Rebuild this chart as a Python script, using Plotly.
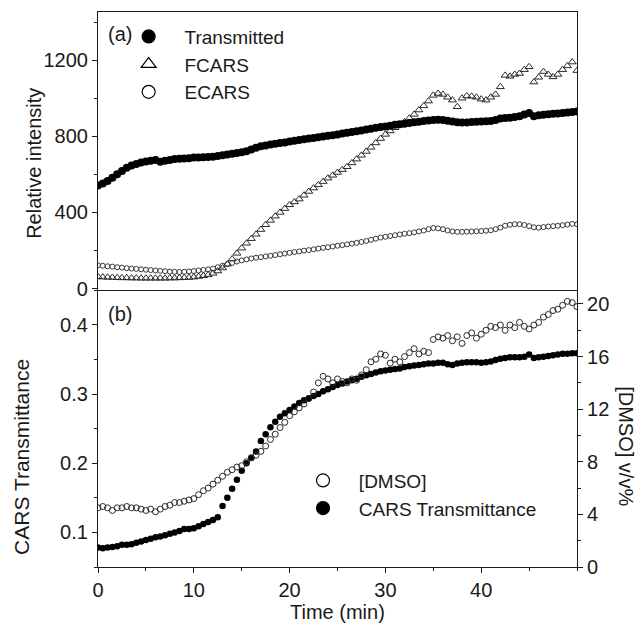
import plotly.graph_objects as go

time_min = [0.0, 0.5, 1.0, 1.5, 2.0, 2.5, 3.0, 3.5, 4.0, 4.5, 5.0, 5.5, 6.0, 6.5, 7.0, 7.5, 8.0, 8.5, 9.0, 9.5,
            10.0, 10.5, 11.0, 11.5, 12.0, 12.5, 13.0, 13.5, 14.0, 14.5, 15.0, 15.5, 16.0, 16.5, 17.0, 17.5, 18.0, 18.5, 19.0, 19.5,
            20.0, 20.5, 21.0, 21.5, 22.0, 22.5, 23.0, 23.5, 24.0, 24.5, 25.0, 25.5, 26.0, 26.5, 27.0, 27.5, 28.0, 28.5, 29.0, 29.5,
            30.0, 30.5, 31.0, 31.5, 32.0, 32.5, 33.0, 33.5, 34.0, 34.5, 35.0, 35.5, 36.0, 36.5, 37.0, 37.5, 38.0, 38.5, 39.0, 39.5,
            40.0, 40.5, 41.0, 41.5, 42.0, 42.5, 43.0, 43.5, 44.0, 44.5, 45.0, 45.5, 46.0, 46.5, 47.0, 47.5, 48.0, 48.5, 49.0, 49.5,
            50.0]

transmitted = [542, 552, 565, 582, 600, 618, 635, 646, 655, 662, 668, 672, 676, 666, 672, 676, 680, 682, 683, 685,
               688, 689, 690, 691, 693, 696, 700, 704, 708, 712, 716, 722, 730, 740, 748, 752, 757, 761, 765, 768,
               772, 776, 780, 784, 788, 791, 795, 799, 803, 806, 810, 814, 818, 822, 826, 830, 835, 840, 845, 849,
               852, 856, 860, 863, 866, 870, 874, 877, 880, 883, 885, 887, 885, 881, 878, 874, 872, 873, 875, 876,
               878, 879, 880, 886, 893, 896, 898, 901, 905, 915, 922, 905, 910, 913, 916, 918, 920, 922, 925, 928,
               930]

fcars = [62, 60, 59, 58, 57, 56, 56, 55, 55, 54, 54, 54, 54, 54, 54, 55, 55, 56, 57, 58,
         60, 63, 67, 72, 80, 92, 108, 128, 155, 185, 212, 238, 262, 285, 310, 335, 358, 380, 400, 420,
         440, 455, 470, 490, 510, 528, 545, 562, 580, 595, 610, 625, 640, 660, 680, 700, 720, 742, 765, 788,
         810, 828, 845, 860, 875, 895, 915, 938, 960, 985, 1015, 1025, 1020, 1005, 990, 955, 1000, 1012, 1010, 1005,
         995, 990, 1005, 1020, 1060, 1120, 1115, 1125, 1130, 1150, 1165, 1085, 1110, 1140, 1125, 1112, 1125, 1150, 1170, 1190,
         1145]

ecars = [122, 120, 117, 115, 112, 110, 107, 105, 103, 101, 99, 97, 95, 93, 91, 89, 88, 87, 88, 90,
         92, 95, 98, 101, 105, 112, 120, 128, 135, 142, 148, 153, 158, 162, 165, 169, 172, 176, 180, 184,
         188, 192, 195, 199, 202, 206, 210, 214, 217, 221, 225, 228, 232, 236, 240, 245, 250, 256, 262, 268,
         272, 276, 280, 284, 288, 291, 295, 300, 305, 312, 318, 316, 312, 305, 300, 298, 298, 299, 300, 301,
         302, 304, 306, 312, 320, 330, 335, 338, 338, 334, 328, 322, 320, 323, 326, 328, 330, 333, 336, 340,
         338]

cars_trans = [0.078, 0.077, 0.078, 0.079, 0.080, 0.082, 0.082, 0.083, 0.085, 0.087, 0.089, 0.091, 0.093, 0.094, 0.096, 0.098, 0.100, 0.102, 0.105, 0.105,
              0.106, 0.109, 0.112, 0.115, 0.118, 0.122, 0.138, 0.150, 0.163, 0.176, 0.189, 0.200, 0.208, 0.217, 0.232, 0.242, 0.252, 0.260, 0.267, 0.272,
              0.277, 0.282, 0.287, 0.291, 0.294, 0.297, 0.300, 0.304, 0.307, 0.310, 0.313, 0.315, 0.318, 0.320, 0.322, 0.325, 0.327, 0.329, 0.331, 0.333,
              0.334, 0.335, 0.336, 0.337, 0.339, 0.340, 0.341, 0.342, 0.343, 0.344, 0.344, 0.345, 0.345, 0.343, 0.342, 0.344, 0.345, 0.346, 0.346, 0.346,
              0.345, 0.346, 0.347, 0.349, 0.351, 0.352, 0.353, 0.353, 0.353, 0.354, 0.357, 0.352, 0.353, 0.354, 0.355, 0.356, 0.357, 0.358, 0.358, 0.359,
              0.359]

dmso = [4.5, 4.6, 4.5, 4.3, 4.5, 4.5, 4.6, 4.5, 4.5, 4.4, 4.3, 4.4, 4.2, 4.4, 4.6, 4.7, 4.9, 4.9, 5.0, 5.1,
        5.2, 5.5, 5.8, 6.0, 6.3, 6.6, 6.9, 7.2, 7.4, 7.6, 7.7, 8.0, 8.3, 8.5, 8.8, 9.2, 9.7, 10.1, 10.6, 11.0,
        11.5, 11.8, 12.1, 12.4, 12.8, 13.3, 14.0, 14.5, 14.3, 14.0, 14.3, 14.1, 14.0, 14.3, 14.2, 14.6, 15.0, 15.6, 15.8, 16.2,
        16.1, 15.5, 15.8, 15.6, 16.0, 16.3, 16.6, 16.2, 16.4, 16.3, 17.3, 17.5, 17.4, 17.6, 17.2, 17.5, 17.0, 17.6, 17.8, 17.4,
        17.7, 18.0, 18.3, 18.2, 18.4, 18.0, 18.4, 18.2, 18.6, 18.3, 18.1, 18.4, 18.6, 19.0, 19.2, 19.5, 19.6, 19.9, 20.2, 20.1,
        19.8]

x_ticks = [0, 10, 20, 30, 40]
top_ticks = [0, 400, 800, 1200]
left_ticks = [0.1, 0.2, 0.3, 0.4]
right_ticks = [0, 4, 8, 12, 16, 20]

FONT = "Liberation Sans, Arial, sans-serif"
INK = "#1a1a1a"
NB = "\u00a0"

fig = go.Figure()

# top panel data
fig.add_trace(go.Scatter(x=time_min, y=ecars, mode="markers", xaxis="x", yaxis="y", showlegend=False,
                         marker=dict(symbol="circle-open", size=5, color="#3a3a3a", line=dict(width=1))))
fig.add_trace(go.Scatter(x=time_min, y=fcars, mode="markers", xaxis="x", yaxis="y", showlegend=False,
                         marker=dict(symbol="triangle-up-open", size=7, color="#2a2a2a", line=dict(width=1))))
fig.add_trace(go.Scatter(x=time_min, y=transmitted, mode="markers", xaxis="x", yaxis="y", showlegend=False,
                         marker=dict(symbol="circle", size=8, color="black")))

# bottom panel data
fig.add_trace(go.Scatter(x=time_min, y=dmso, mode="markers", xaxis="x2", yaxis="y3", showlegend=False,
                         marker=dict(symbol="circle-open", size=6, color="#2a2a2a", line=dict(width=1))))
fig.add_trace(go.Scatter(x=time_min, y=cars_trans, mode="markers", xaxis="x2", yaxis="y2", showlegend=False,
                         marker=dict(symbol="circle", size=6.5, color="black")))

# legend entries
def leg(name, symbol, legend, xa, ya):
    fig.add_trace(go.Scatter(x=[None], y=[None], mode="markers", name=NB * 3 + name, legend=legend,
                             xaxis=xa, yaxis=ya,
                             marker=dict(symbol=symbol, size=13, color="black", line=dict(width=1.2, color="black"))))

leg("Transmitted", "circle", "legend", "x", "y")
leg("FCARS", "triangle-up-open", "legend", "x", "y")
leg("ECARS", "circle-open", "legend", "x", "y")
leg("[DMSO]", "circle-open", "legend2", "x2", "y3")
leg("CARS Transmittance", "circle", "legend2", "x2", "y2")

axis_common = dict(showline=True, linecolor=INK, linewidth=1.2, showgrid=False, zeroline=False,
                   ticks="outside", ticklen=5, tickwidth=1.2, tickcolor=INK,
                   tickfont=dict(family=FONT, size=20, color=INK))

fig.update_layout(
    width=637, height=632,
    margin=dict(l=98, r=60, t=12, b=65),
    paper_bgcolor="white", plot_bgcolor="white",
    font=dict(family=FONT, size=20, color=INK),
    xaxis=dict(domain=[0, 1], anchor="y", range=[0, 50], showline=True, linecolor=INK, linewidth=1.2,
               mirror=True, showticklabels=False, ticks="", showgrid=False, zeroline=False),
    yaxis=dict(domain=[0.5, 1], anchor="x", range=[-5, 1453], tickvals=top_ticks, mirror=True,
               minor=dict(dtick=200, tick0=0, ticks="outside", ticklen=3, tickwidth=1, tickcolor=INK),
               **axis_common),
    xaxis2=dict(domain=[0, 1], anchor="y2", range=[0, 50], tickvals=x_ticks,
                minor=dict(dtick=5, tick0=0, ticks="outside", ticklen=3, tickwidth=1, tickcolor=INK),
                **axis_common),
    yaxis2=dict(domain=[0, 0.5], anchor="x2", range=[0.05, 0.451], tickvals=left_ticks,
                ticktext=[str(v) for v in left_ticks],
                minor=dict(dtick=0.05, tick0=0.05, ticks="outside", ticklen=3, tickwidth=1, tickcolor=INK),
                **axis_common),
    yaxis3=dict(overlaying="y2", anchor="x2", side="right", range=[0, 21.1], tickvals=right_ticks,
                minor=dict(dtick=2, tick0=0, ticks="outside", ticklen=3, tickwidth=1, tickcolor=INK),
                **axis_common),
    legend=dict(x=0.064, y=0.99, xanchor="left", yanchor="top", bgcolor="rgba(0,0,0,0)",
                font=dict(family=FONT, size=19, color=INK), tracegroupgap=0, itemclick=False),
    legend2=dict(x=0.428, y=0.19, xanchor="left", yanchor="top", bgcolor="rgba(0,0,0,0)",
                 font=dict(family=FONT, size=19, color=INK), tracegroupgap=0, itemclick=False),
)

fig.add_annotation(text="(a)", xref="paper", yref="paper", x=0.016, y=0.96, xanchor="left", yanchor="middle",
                   showarrow=False, font=dict(family=FONT, size=20, color=INK))
fig.add_annotation(text="(b)", xref="paper", yref="paper", x=0.016, y=0.455, xanchor="left", yanchor="middle",
                   showarrow=False, font=dict(family=FONT, size=20, color=INK))
fig.add_annotation(text="Relative intensity", xref="paper", yref="paper", x=-0.135, y=0.727, textangle=-90,
                   xanchor="center", yanchor="middle", showarrow=False, font=dict(family=FONT, size=20, color=INK))
fig.add_annotation(text="CARS Transmittance", xref="paper", yref="paper", x=-0.16, y=0.199, textangle=-90,
                   xanchor="center", yanchor="middle", showarrow=False, font=dict(family=FONT, size=21, color=INK))
fig.add_annotation(text="[DMSO] v/v%", xref="paper", yref="paper", x=1.102, y=0.218, textangle=90,
                   xanchor="center", yanchor="middle", showarrow=False, font=dict(family=FONT, size=20, color=INK))
fig.add_annotation(text="Time (min)", xref="paper", yref="paper", x=0.5, y=-0.081, xanchor="center", yanchor="middle",
                   showarrow=False, font=dict(family=FONT, size=20, color=INK))

fig.write_html("out.html", config={"displayModeBar": False},
               post_script="document.body.style.margin='0px';")
